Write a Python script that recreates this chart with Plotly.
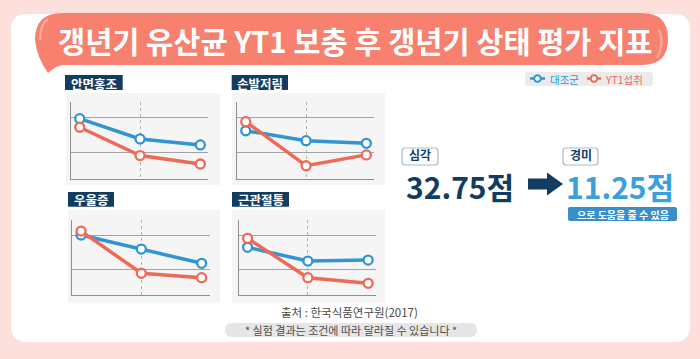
import plotly.graph_objects as go

W, H = 700, 359

# ---------------- data ----------------
timepoints = [0, 1, 2]
symptoms = ["안면홍조", "손발저림", "우울증", "근관절통"]
series_names = ["대조군", "YT1섭취"]

control_flush = [39.2, 27.6, 24.2]
yt1_flush = [34.3, 18.1, 13.3]
control_numb = [32.3, 26.6, 25.1]
yt1_numb = [37.5, 12.3, 18.5]
control_depr = [40.0, 31.8, 23.5]
yt1_depr = [42.3, 17.7, 15.1]
control_joint = [32.8, 24.8, 25.4]
yt1_joint = [38.1, 15.1, 11.8]

grid_values = [20, 40]
score_before = "32.75점"
score_after = "11.25점"
title_text = "갱년기 유산균 YT1 보충 후 갱년기 상태 평가 지표"
source_text = "출처 : 한국식품연구원(2017)"
note_text = "* 실험 결과는 조건에 따라 달라질 수 있습니다 *"

BLUE = "#2f96d3"
RED = "#ee6a56"
NAVY = "#123d60"
FONT = "Noto Sans CJK KR"


def X(x):
    return x / W


def Y(y):
    return 1 - y / H


def rrect_path(x0, y0, x1, y1, r):
    return (f"M {X(x0+r)},{Y(y0)} L {X(x1-r)},{Y(y0)} Q {X(x1)},{Y(y0)} {X(x1)},{Y(y0+r)} "
            f"L {X(x1)},{Y(y1-r)} Q {X(x1)},{Y(y1)} {X(x1-r)},{Y(y1)} "
            f"L {X(x0+r)},{Y(y1)} Q {X(x0)},{Y(y1)} {X(x0)},{Y(y1-r)} "
            f"L {X(x0)},{Y(y0+r)} Q {X(x0)},{Y(y0)} {X(x0+r)},{Y(y0)} Z")


def poly_path(pts):
    return "M " + " L ".join(f"{X(a)},{Y(b)}" for a, b in pts) + " Z"


def pshape(path, fill=None, line=None):
    d = dict(type="path", xref="paper", yref="paper", path=path, layer="below",
             line=line if line else dict(width=0))
    if fill:
        d["fillcolor"] = fill
    return d


fig = go.Figure()

panels = [
    (control_flush, yt1_flush),
    (control_numb, yt1_numb),
    (control_depr, yt1_depr),
    (control_joint, yt1_joint),
]
geom = [(70.7, 101.5, 178.5), (236.7, 101.5, 178.5), (72.0, 219.6, 295.0), (238.5, 219.6, 295.0)]
PW = 137.5

layout_axes = {}
for i, ((c, t), (L, T, B)) in enumerate(zip(panels, geom)):
    n = "" if i == 0 else str(i + 1)
    xa, ya = "x" + n, "y" + n
    for vals, col, nm in ((c, BLUE, series_names[0]), (t, RED, series_names[1])):
        fig.add_trace(go.Scatter(
            x=timepoints, y=vals, mode="lines+markers", name=nm,
            line=dict(color=col, width=3.5),
            marker=dict(size=9, color="white", line=dict(color=col, width=2.3)),
            xaxis=xa, yaxis=ya, showlegend=False, cliponaxis=False, hoverinfo="skip"))
    layout_axes["xaxis" + n] = dict(
        domain=[X(L), X(L + PW)], range=[-0.15, 2.13], anchor=ya,
        showline=True, linecolor="#8e8e8e", linewidth=1,
        tickvals=[1], showgrid=True, gridcolor="#b4b4b4", griddash="dot", gridwidth=1,
        showticklabels=False, ticks="", zeroline=False, fixedrange=True)
    layout_axes["yaxis" + n] = dict(
        domain=[Y(B), Y(T)], range=[5, 49], anchor=xa,
        showline=True, linecolor="#8e8e8e", linewidth=1,
        tickvals=grid_values, showgrid=True, gridcolor="#a2a2a2", gridwidth=1,
        showticklabels=False, ticks="", zeroline=False, fixedrange=True)

shapes = []
# white card
shapes.append(pshape(rrect_path(11, 14, 690, 342, 16), "white"))
# chart background panels
for (x0, y0, x1, y1) in [(66, 93, 220, 185), (232, 93, 385, 185), (68, 210, 220, 302.7), (232, 210, 385, 302.7)]:
    shapes.append(dict(type="rect", xref="paper", yref="paper", x0=X(x0), x1=X(x1), y0=Y(y1), y1=Y(y0),
                       fillcolor="#f5f5f5", line=dict(width=0), layer="below"))
# title banner with tail
banner = (f"M {X(62)},{Y(13)} L {X(642)},{Y(13)} Q {X(668)},{Y(13)} {X(668)},{Y(39)} "
          f"Q {X(668)},{Y(65)} {X(642)},{Y(65)} L {X(62)},{Y(65)} "
          f"Q {X(54)},{Y(67)} {X(48)},{Y(73)} Q {X(37)},{Y(58)} {X(35)},{Y(40)} "
          f"Q {X(35)},{Y(13)} {X(62)},{Y(13)} Z")
shapes.append(pshape(banner, "#f7806f"))
shapes.append(pshape(f"M {X(659)},{Y(30)} Q {X(665)},{Y(43)} {X(657)},{Y(58)}",
                     None, dict(color="rgba(255,255,255,0.3)", width=2.5)))
shapes.append(pshape(f"M {X(40)},{Y(40)} Q {X(40)},{Y(24)} {X(48)},{Y(19)}",
                     None, dict(color="rgba(255,255,255,0.3)", width=2.5)))
# panel labels
label_boxes = [(65, 75, 122.7, 90), (231.7, 75, 288, 90), (68, 192, 114, 206.7), (232, 192, 289, 206.7)]
for (x0, y0, x1, y1) in label_boxes:
    shapes.append(dict(type="rect", xref="paper", yref="paper", x0=X(x0), x1=X(x1), y0=Y(y1), y1=Y(y0),
                       fillcolor=NAVY, line=dict(width=0), layer="below"))
# legend box
shapes.append(pshape(rrect_path(525, 72, 653, 86, 3), "#ebebeb"))
for (x0, x1, col) in [(530, 545, BLUE), (587, 601, RED)]:
    shapes.append(dict(type="line", xref="paper", yref="paper", x0=X(x0), x1=X(x1), y0=Y(78.5), y1=Y(78.5),
                       line=dict(color=col, width=2.5), layer="below"))
    cx = (x0 + x1) / 2
    shapes.append(dict(type="circle", xref="paper", yref="paper", x0=X(cx - 3.3), x1=X(cx + 3.3),
                       y0=Y(78.5 + 3.3), y1=Y(78.5 - 3.3), fillcolor="white",
                       line=dict(color=col, width=2), layer="below"))
# 심각 / 경미 boxes
for (x0, x1) in [(402, 438), (563, 598)]:
    shapes.append(pshape(rrect_path(x0, 148, x1, 165, 3), "white", dict(color="#a9b9c9", width=1.2)))
# blue note box
shapes.append(pshape(rrect_path(568, 207, 677, 221, 2), "#3a8fcb"))
# arrow
shapes.append(pshape(poly_path([(528, 178.5), (547, 178.5), (547, 172.5), (563, 184),
                                (547, 195.5), (547, 189.5), (528, 189.5)]), NAVY))
# note pill
shapes.append(pshape(rrect_path(225, 323, 477, 337, 7), "#e6e6e6"))

ann = []


def text(x, y, s, size, color, weight="normal", xanchor="center"):
    ann.append(dict(x=X(x), y=Y(y), xref="paper", yref="paper", text=s, showarrow=False,
                    xanchor=xanchor, yanchor="middle", borderpad=0,
                    font=dict(family=FONT, size=size, color=color, weight=weight)))


text(355, 40, title_text, 29.5, "white", "bold")
for (x0, y0, x1, y1), s in zip(label_boxes, symptoms):
    text((x0 + x1) / 2, (y0 + y1) / 2 + 0.5, s, 12.5, "white", "bold")
text(549, 79, series_names[0], 10.5, BLUE, "normal", "left")
text(604, 79, series_names[1], 10.5, RED, "normal", "left")
text(420, 155, "심각", 12, NAVY, "bold")
text(580.5, 155, "경미", 12, NAVY, "bold")
text(460, 186, score_before, 30, NAVY, "bold")
text(619.5, 186, score_after, 30, "#3a9fdc", "bold")
text(622.5, 214, "으로 도움을 줄 수 있음", 10, "white", "bold")
text(349, 312, source_text, 11.5, "#4a4a4a", "normal")
text(351, 330, note_text, 11, "#4d4d4d", "normal")

fig.update_layout(
    width=W, height=H, margin=dict(l=0, r=0, t=0, b=0),
    paper_bgcolor="#fde0dc", plot_bgcolor="rgba(0,0,0,0)",
    shapes=shapes, annotations=ann, showlegend=False, **layout_axes)

fig.write_html("out.html", config={"displayModeBar": False},
               post_script="document.body.style.margin='0';document.body.style.overflow='hidden';")
